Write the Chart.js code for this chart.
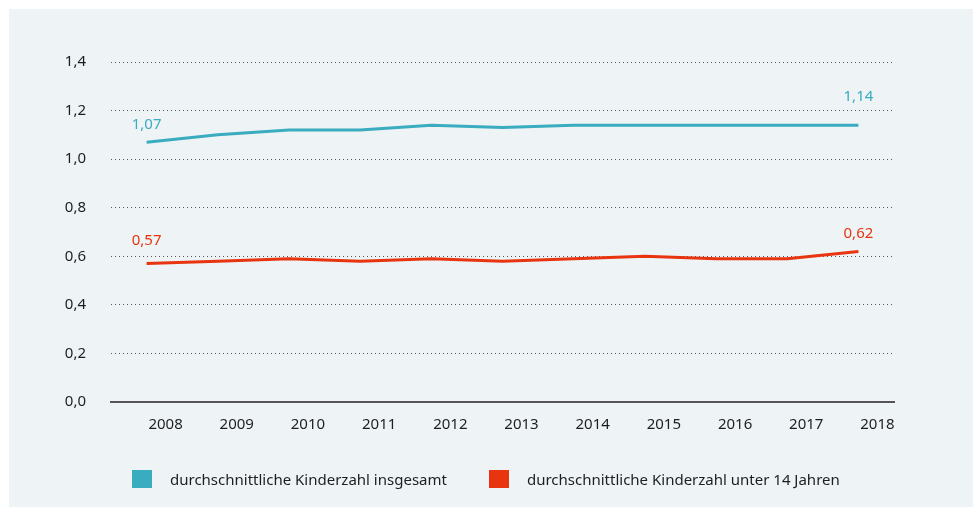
<!DOCTYPE html>
<html lang="de">
<head>
<meta charset="utf-8">
<script src="https://cdn.jsdelivr.net/npm/chart.js@4.4.1/dist/chart.umd.min.js"></script>
<style>
    html, body { margin: 0; padding: 0; background: #ffffff; }
    #panel {
        position: absolute;
        left: 9px;
        top: 9px;
        width: 964px;
        height: 498px;
        background: #eef3f6;
    }
    #chart { position: absolute; left: 0; top: 0; }
    #legend {
        position: absolute;
        left: 123px;
        top: 460px;
        display: flex;
        align-items: center;
        font-family: 'Noto Sans', sans-serif;
        font-size: 15px;
        color: #1e1e1e;
    }
    .legend-item { display: flex; align-items: center; margin-right: 42px; }
    .legend-box { width: 20px; height: 18px; margin-right: 18px; }
</style>
</head>
<body>
<div id="panel">
    <canvas id="chart" width="964" height="498"></canvas>
    <div id="legend"></div>
</div>
<script>
const years = ['2008', '2009', '2010', '2011', '2012', '2013', '2014', '2015', '2016', '2017', '2018'];
const totalKids = [1.07, 1.10, 1.12, 1.12, 1.14, 1.13, 1.14, 1.14, 1.14, 1.14, 1.14];
const under14Kids = [0.57, 0.58, 0.59, 0.58, 0.59, 0.58, 0.59, 0.60, 0.59, 0.59, 0.62];
const seriesNames = ['durchschnittliche Kinderzahl insgesamt', 'durchschnittliche Kinderzahl unter 14 Jahren'];
const seriesColors = ['#3aacbf', '#e8340f'];

const fontFamily = 'Noto Sans';

function formatDe(v, digits) {
    return v.toFixed(digits).replace('.', ',');
}

// labels at the first and last point of each line
const endLabels = {
    id: 'endLabels',
    afterDatasetsDraw(chart, args, opts) {
        const ctx = chart.ctx;
        ctx.save();
        ctx.font = '15px ' + fontFamily;
        ctx.textAlign = 'center';
        ctx.textBaseline = 'middle';
        chart.data.datasets.forEach((ds, i) => {
            const meta = chart.getDatasetMeta(i);
            const last = ds.data.length - 1;
            [0, last].forEach((idx, k) => {
                const pt = meta.data[idx];
                const off = opts.offsets[i][k];
                ctx.fillStyle = ds.borderColor;
                ctx.fillText(formatDe(ds.data[idx], 2), pt.x, pt.y - off);
            });
        });
        ctx.restore();
    }
};

const chart = new Chart(document.getElementById('chart'), {
    type: 'line',
    data: {
        labels: years,
        datasets: [
            {
                label: seriesNames[0],
                data: totalKids,
                borderColor: seriesColors[0],
                backgroundColor: seriesColors[0],
                borderWidth: 3,
                pointRadius: 0,
                tension: 0
            },
            {
                label: seriesNames[1],
                data: under14Kids,
                borderColor: seriesColors[1],
                backgroundColor: seriesColors[1],
                borderWidth: 3,
                pointRadius: 0,
                tension: 0
            }
        ]
    },
    options: {
        responsive: false,
        animation: false,
        layout: {
            padding: { top: 53, right: 79, bottom: 0, left: 0 }
        },
        scales: {
            x: {
                offset: true,
                grid: { display: false },
                border: { display: true, color: '#555555', width: 2 },
                ticks: {
                    color: '#1e1e1e',
                    padding: 6,
                    labelOffset: 19,
                    maxRotation: 0,
                    font: { family: fontFamily, size: 15 }
                },
                afterFit(scale) { scale.height = 105; }
            },
            y: {
                min: 0,
                max: 1.4,
                ticks: {
                    stepSize: 0.2,
                    color: '#1e1e1e',
                    padding: 25,
                    font: { family: fontFamily, size: 15 },
                    callback: v => formatDe(v, 1)
                },
                grid: {
                    drawTicks: false,
                    color: ctx => ctx.tick && ctx.tick.value === 0 ? 'rgba(0,0,0,0)' : '#555555',
                    lineWidth: 1
                },
                border: { display: false, dash: [1, 3] },
                afterFit(scale) { scale.width = 102; }
            }
        },
        plugins: {
            legend: { display: false },
            tooltip: { enabled: false },
            endLabels: {
                offsets: [[17, 28], [23, 18]]
            }
        }
    },
    plugins: [endLabels]
});

const legendEl = document.getElementById('legend');
seriesNames.forEach((name, i) => {
    const item = document.createElement('div');
    item.className = 'legend-item';
    const box = document.createElement('span');
    box.className = 'legend-box';
    box.style.background = seriesColors[i];
    const txt = document.createElement('span');
    txt.textContent = name;
    item.appendChild(box);
    item.appendChild(txt);
    legendEl.appendChild(item);
});
</script>
</body>
</html>
